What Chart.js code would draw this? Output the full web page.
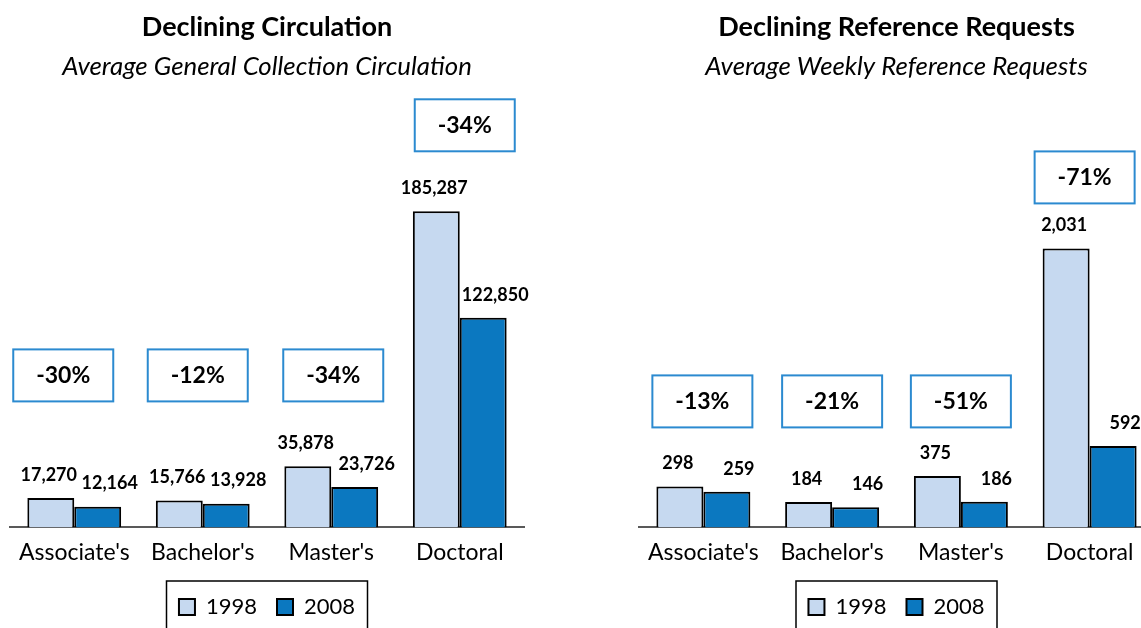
<!DOCTYPE html>
<html>
<head>
<meta charset="utf-8">
<script src="https://cdn.jsdelivr.net/npm/chart.js@4.4.0/dist/chart.umd.min.js"></script>
<style>
html, body { margin: 0; padding: 0; background: #fff; overflow: hidden; width: 1141px; height: 628px; }
.box { position: absolute; top: 0; height: 628px; }
#box1 { left: 0; width: 534px; }
#box2 { left: 629px; width: 535px; }
</style>
</head>
<body>
<div class="box" id="box1"><canvas id="Graf1"></canvas></div>
<div class="box" id="box2"><canvas id="Graf2"></canvas></div>
<script>
const CATEGORIES = ["Associate's", "Bachelor's", "Master's", "Doctoral"];
const YEARS = ['1998', '2008'];
const CIRC_1998 = [17270, 15766, 35878, 185287];
const CIRC_2008 = [12164, 13928, 23726, 122850];
const CIRC_CHANGE = ['-30%', '-12%', '-34%', '-34%'];
const REF_1998 = [298, 184, 375, 2031];
const REF_2008 = [259, 146, 186, 592];
const REF_CHANGE = ['-13%', '-21%', '-51%', '-71%'];

const FONT = "Lato, 'Open Sans', sans-serif";
const LIGHT = '#c6d9f0';
const DARK = '#0b78c0';

// value labels above the bars + the % change boxes + the frame round the legend
const extras = {
    id: 'extras',
    afterDatasetsDraw(chart, args, opts) {
        const ctx = chart.ctx;
        const xs = chart.scales.x;
        const bottom = chart.chartArea.bottom;
        ctx.save();
        ctx.fillStyle = '#000';
        ctx.font = 'bold 18px ' + FONT;
        ctx.textAlign = 'center';
        ctx.textBaseline = 'middle';
        chart.data.datasets.forEach((ds, d) => {
            chart.getDatasetMeta(d).data.forEach((bar, i) => {
                ctx.fillText(ds.data[i].toLocaleString('en-US'), bar.x + opts.labelShift[d], bar.y - 23);
            });
        });
        opts.changes.forEach((txt, i) => {
            let top = bottom;
            chart.data.datasets.forEach((ds, d) => {
                top = Math.min(top, chart.getDatasetMeta(d).data[i].y);
            });
            const cx = xs.getPixelForValue(i) + opts.nudge[i];
            const cy = Math.min(bottom - opts.level, top - opts.lift);
            ctx.fillStyle = '#fff';
            ctx.fillRect(cx - 50, cy - 26, 100, 52);
            ctx.strokeStyle = '#2b8ad0';
            ctx.lineWidth = 2;
            ctx.strokeRect(cx - 50, cy - 26, 100, 52);
            ctx.fillStyle = '#000';
            ctx.font = 'bold 23px ' + FONT;
            ctx.fillText(txt, cx, cy);
        });
        ctx.restore();
    },
    afterDraw(chart) {
        const boxes = chart.legend.legendHitBoxes;
        if (!boxes || !boxes.length) return;
        const l = Math.min(...boxes.map(b => b.left));
        const r = Math.max(...boxes.map(b => b.left + b.width));
        const mid = (l + r) / 2;
        const top = Math.min(...boxes.map(b => b.top)) - 15;
        const ctx = chart.ctx;
        ctx.save();
        ctx.strokeStyle = '#000';
        ctx.lineWidth = 1.5;
        ctx.strokeRect(mid - 100.5, top, 201, chart.height);
        ctx.restore();
    }
};

function makeChart(id, title, subtitle, d1998, d2008, changes, yMax, level, lift, nudge) {
    return new Chart(document.getElementById(id).getContext('2d'), {
        type: 'bar',
        data: {
            labels: CATEGORIES,
            datasets: [
                {
                    label: YEARS[0],
                    data: d1998,
                    backgroundColor: LIGHT,
                    borderColor: '#000',
                    borderWidth: 2,
                },
                {
                    label: YEARS[1],
                    data: d2008,
                    backgroundColor: DARK,
                    borderColor: '#000',
                    borderWidth: 2,
                },
            ],
        },
        options: {
            responsive: true,
            maintainAspectRatio: false,
            animation: false,
            layout: { padding: { left: 10, right: 10, top: 0, bottom: 0 } },
            datasets: {
                bar: { categoryPercentage: 0.73, barPercentage: 1.0 }
            },
            scales: {
                x: {
                    grid: { display: false },
                    border: { display: true, color: '#595959', width: 2 },
                    ticks: { color: '#000', font: { family: FONT, size: 23 }, padding: 3 },
                    afterFit: (s) => { s.height += 7; },
                },
                y: {
                    display: false,
                    min: 0,
                    max: yMax,
                },
            },
            plugins: {
                title: {
                    display: true,
                    text: title,
                    color: '#000',
                    font: { family: FONT, size: 27, weight: 'bold' },
                    padding: { top: 11, bottom: 4 },
                },
                subtitle: {
                    display: true,
                    text: subtitle,
                    color: '#000',
                    font: { family: FONT, size: 25.8, style: 'italic' },
                    padding: { top: 4, bottom: 10 },
                },
                legend: {
                    position: 'bottom',
                    labels: {
                        color: '#000',
                        font: { family: FONT, size: 22 },
                        boxWidth: 16,
                        boxHeight: 16,
                        padding: 20,
                    },
                },
                tooltip: { enabled: false },
                extras: { changes: changes, level: level, lift: lift, nudge: nudge, labelShift: [-2, 12] },
            },
        },
        plugins: [extras],
    });
}

const chartOne = makeChart('Graf1', 'Declining Circulation', 'Average General Collection Circulation',
    CIRC_1998, CIRC_2008, CIRC_CHANGE, 255000, 152, 86, [-11, -5, 2, 5]);
const chartTwo = makeChart('Graf2', 'Declining Reference Requests', 'Average Weekly Reference Requests',
    REF_1998, REF_2008, REF_CHANGE, 3167, 126, 71, [-1, 0, 0, -5]);
</script>
</body>
</html>
